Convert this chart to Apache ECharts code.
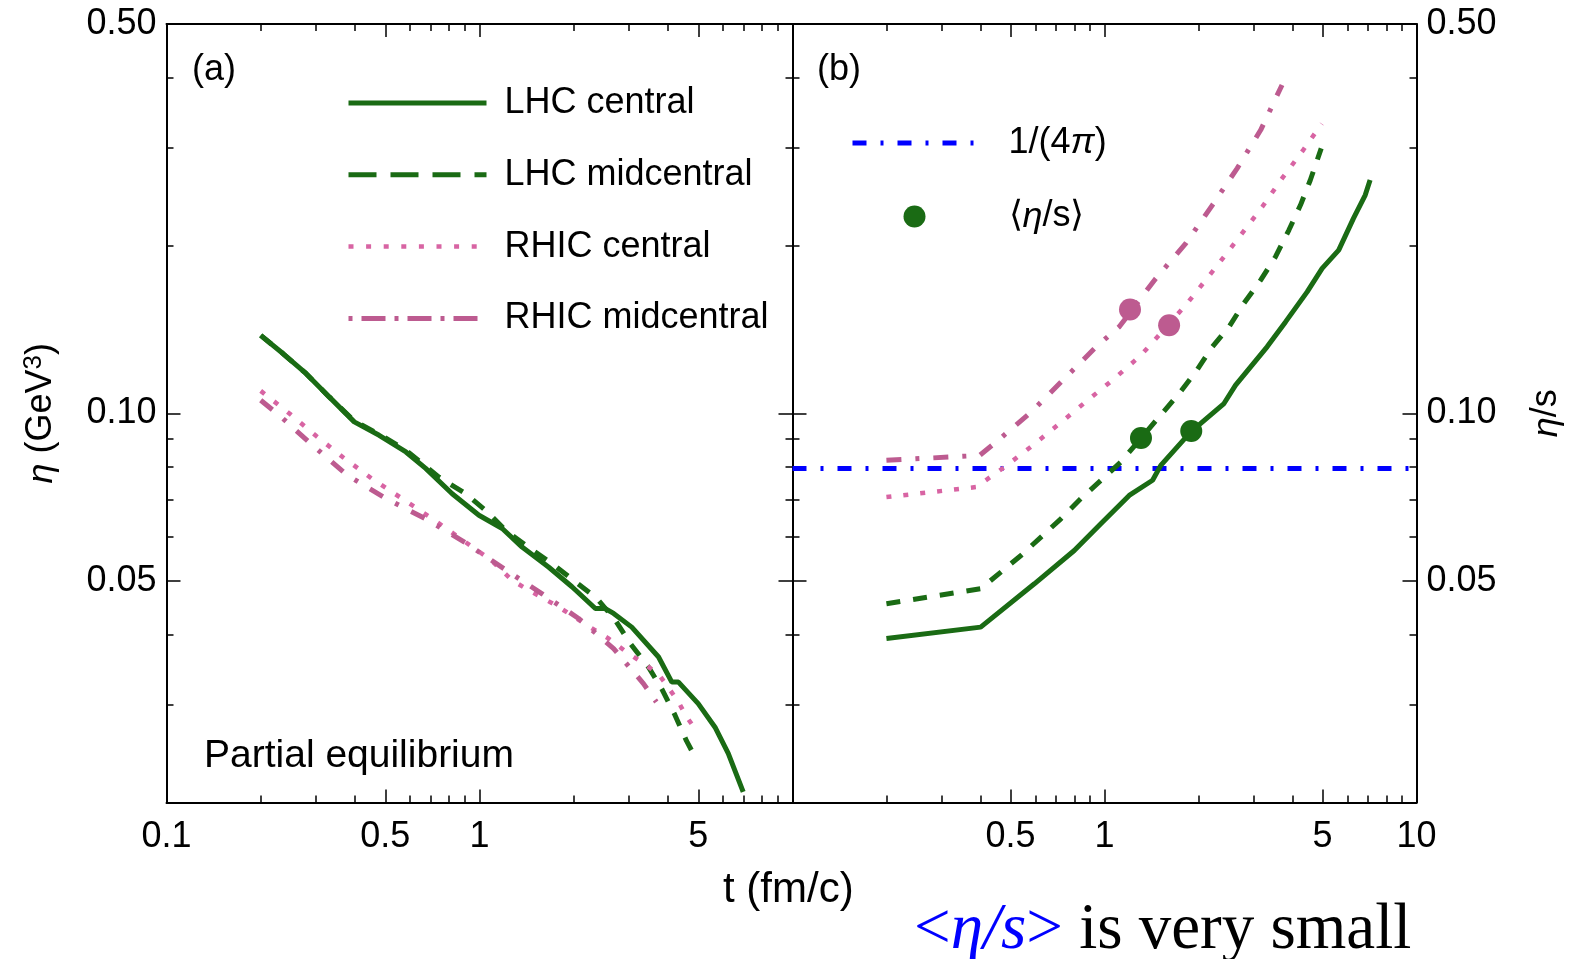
<!DOCTYPE html>
<html>
<head>
<meta charset="utf-8">
<title>eta and eta/s vs t</title>
<script src="https://cdn.jsdelivr.net/npm/echarts@6/dist/echarts.min.js"></script>
<style>
  html, body { margin: 0; padding: 0; background: #fff; }
  #chart { width: 1573px; height: 959px; }
</style>
</head>
<body>
<div id="chart"></div>
<script>
// ---- panel (a): eta (GeV^3) vs t (fm/c) ----
var tA_lhcCentral = [0.2, 0.2355, 0.279, 0.331, 0.398, 0.478, 0.582, 0.673, 0.818, 0.996, 1.182, 1.368, 1.665, 1.974, 2.345, 2.523, 2.682, 3.065, 3.733, 4.116, 4.322, 4.998, 5.655, 6.233, 6.957];
var etaA_lhcCentral = [0.138, 0.128, 0.1179, 0.107, 0.0965, 0.0913, 0.0852, 0.0796, 0.0717, 0.0656, 0.0621, 0.0575, 0.0529, 0.0488, 0.0446, 0.0446, 0.0437, 0.0413, 0.0365, 0.0329, 0.0329, 0.0301, 0.0273, 0.0245, 0.0209];

var tA_lhcMid = [0.2, 0.2355, 0.279, 0.331, 0.398, 0.478, 0.582, 0.742, 0.903, 1.059, 1.212, 1.456, 1.706, 2.024, 2.373, 2.716, 3.031, 3.468, 3.822, 4.214, 4.586, 4.95];
var etaA_lhcMid = [0.138, 0.128, 0.1179, 0.107, 0.0968, 0.0917, 0.0858, 0.0768, 0.0717, 0.0665, 0.0616, 0.0571, 0.0537, 0.0498, 0.0465, 0.0425, 0.0386, 0.035, 0.032, 0.0287, 0.0258, 0.0238];

var tA_rhicCentral = [0.2, 0.247, 0.301, 0.367, 0.453, 0.563, 0.692, 0.89, 1.088, 1.272, 1.438, 1.778, 2.207, 2.565, 2.958, 3.351, 3.733, 4.008, 4.322, 4.586, 4.96];
var etaA_rhicCentral = [0.1097, 0.0999, 0.091, 0.0833, 0.0763, 0.0704, 0.0652, 0.059, 0.0545, 0.0501, 0.0481, 0.045, 0.0416, 0.0395, 0.0372, 0.0355, 0.034, 0.0322, 0.0303, 0.0285, 0.0268];

var tA_rhicMid = [0.2, 0.229, 0.293, 0.378, 0.502, 0.681, 0.903, 1.196, 1.585, 2.073, 2.682, 3.34, 3.673];
var etaA_rhicMid = [0.1055, 0.0992, 0.0876, 0.0774, 0.0703, 0.0644, 0.0585, 0.0526, 0.0474, 0.0428, 0.0378, 0.0327, 0.0303];

// ---- panel (b): eta/s vs t (fm/c) ----
var tB_lhcCentral = [0.2, 0.401, 0.596, 0.8, 0.975, 1.2, 1.426, 1.515, 1.89, 2.415, 2.631, 3.32, 3.804, 4.462, 4.984, 5.632, 6.28, 6.85, 7.1];
var etasB_lhcCentral = [0.0394, 0.0413, 0.0494, 0.0567, 0.0634, 0.0712, 0.0758, 0.0806, 0.0926, 0.1041, 0.1123, 0.1316, 0.1459, 0.1652, 0.182, 0.1963, 0.2238, 0.2465, 0.2623];

var tB_lhcMid = [0.2, 0.401, 0.541, 0.627, 0.726, 0.841, 0.975, 1.129, 1.497, 1.734, 1.96, 2.217, 2.507, 2.797, 3.166, 3.533, 3.9, 4.248, 4.568, 4.95];
var etasB_lhcMid = [0.0455, 0.0484, 0.0556, 0.06, 0.0647, 0.0703, 0.0758, 0.0818, 0.0985, 0.1085, 0.1186, 0.1316, 0.143, 0.1575, 0.1734, 0.191, 0.2133, 0.2365, 0.2623, 0.299];

var tB_rhicCentral = [0.2, 0.388, 0.4786, 0.5895, 0.717, 0.883, 1.075, 1.309, 1.822, 2.326, 2.73, 3.204, 3.707, 4.345, 4.97];
var etasB_rhicCentral = [0.0707, 0.0737, 0.0801, 0.0876, 0.0958, 0.1055, 0.1154, 0.1271, 0.1564, 0.1858, 0.2088, 0.2348, 0.264, 0.2975, 0.331];

var tB_rhicMid = [0.2, 0.398, 0.456, 0.583, 0.744, 0.94, 1.115, 1.46, 1.822, 2.217, 2.662, 3.166, 3.707];
var etasB_rhicMid = [0.0823, 0.084, 0.0894, 0.1006, 0.1154, 0.1316, 0.143, 0.1746, 0.2018, 0.2365, 0.2753, 0.3225, 0.3886];

// KSS bound 1/(4 pi)
var tBound = [0.1, 10];
var etasBound = [1 / (4 * Math.PI), 1 / (4 * Math.PI)];

// time-averaged <eta/s>
var tAvgLhc = [1.309, 1.897];
var etasAvgLhc = [0.0903, 0.0929];
var tAvgRhic = [1.207, 1.611];
var etasAvgRhic = [0.1536, 0.1439];

// ticks
var xMajorTicks = [0.1, 0.5, 1, 5, 10];
var xMinorTicks = [0.2, 0.3, 0.4, 0.6, 0.7, 0.8, 0.9, 2, 3, 4, 6, 7, 8, 9];
var xLabelsA = [0.1, 0.5, 1, 5];
var xLabelsB = [0.5, 1, 5, 10];
var yMajorTicks = [0.05, 0.1, 0.5];
var yMinorTicks = [0.02, 0.03, 0.04, 0.06, 0.07, 0.08, 0.09, 0.2, 0.3, 0.4];
var yLabels = [0.05, 0.1, 0.5];

var FONT = '"Liberation Sans", Arial, sans-serif';
var SERIF = '"Liberation Serif", "Times New Roman", serif';
var GREEN = '#1a6b14';
var PINK_DOT = '#d864a3';
var PINK_DASHDOT = '#bd5b90';
var BLUE = '#0000ff';

var chartDom = document.getElementById('chart');
var myChart = echarts.init(chartDom, null, { renderer: 'canvas' });

function pairs(t, v) {
  return t.map(function (x, i) { return [x, v[i]]; });
}

function fmtX(v) { return String(+(+v).toPrecision(3)); }
function fmtY(v) { return (+v).toFixed(2); }

function xAxisDef(grid, pos, ticks, len, labels, showLine) {
  return {
    type: 'log', logBase: 10, gridIndex: grid, position: pos, min: 0.1, max: 10,
    axisLine: { show: showLine, onZero: false, lineStyle: { color: '#000', width: 2 } },
    axisTick: { show: true, inside: true, length: len, customValues: ticks, lineStyle: { color: '#000', width: 1.5 } },
    axisLabel: labels
      ? { show: true, customValues: labels, formatter: fmtX, fontSize: 36, color: '#000', fontFamily: FONT, margin: 17 }
      : { show: false },
    splitLine: { show: false },
    minorTick: { show: false },
    minorSplitLine: { show: false }
  };
}

function yAxisDef(grid, pos, ticks, len, labels, showLine) {
  return {
    type: 'log', logBase: 10, gridIndex: grid, position: pos, min: 0.02, max: 0.5,
    axisLine: { show: showLine, onZero: false, lineStyle: { color: '#000', width: 2 } },
    axisTick: { show: true, inside: true, length: len, customValues: ticks, lineStyle: { color: '#000', width: 1.5 } },
    axisLabel: labels
      ? { show: true, customValues: labels, formatter: fmtY, fontSize: 36, color: '#000', fontFamily: FONT, margin: 10 }
      : { show: false },
    splitLine: { show: false },
    minorTick: { show: false },
    minorSplitLine: { show: false }
  };
}

var xAxes = [
  xAxisDef(0, 'bottom', xMajorTicks, 13, xLabelsA, true),
  xAxisDef(0, 'bottom', xMinorTicks, 7, null, false),
  xAxisDef(0, 'top', xMajorTicks, 13, null, true),
  xAxisDef(0, 'top', xMinorTicks, 7, null, false),
  xAxisDef(1, 'bottom', xMajorTicks, 13, xLabelsB, true),
  xAxisDef(1, 'bottom', xMinorTicks, 7, null, false),
  xAxisDef(1, 'top', xMajorTicks, 13, null, true),
  xAxisDef(1, 'top', xMinorTicks, 7, null, false)
];

var yAxes = [
  yAxisDef(0, 'left', yMajorTicks, 14, yLabels, true),
  yAxisDef(0, 'left', yMinorTicks, 7, null, false),
  yAxisDef(0, 'right', yMajorTicks, 14, null, true),
  yAxisDef(0, 'right', yMinorTicks, 7, null, false),
  yAxisDef(1, 'left', yMajorTicks, 14, null, true),
  yAxisDef(1, 'left', yMinorTicks, 7, null, false),
  yAxisDef(1, 'right', yMajorTicks, 14, yLabels, true),
  yAxisDef(1, 'right', yMinorTicks, 7, null, false)
];

// axis titles
yAxes[0].name = '{i|η} (GeV{s|3})';
yAxes[0].nameLocation = 'middle';
yAxes[0].nameRotate = 90;
yAxes[0].nameGap = 104;
yAxes[0].nameTextStyle = {
  fontSize: 36, fontFamily: FONT, color: '#000', lineHeight: 42,
  rich: {
    i: { fontSize: 36, fontFamily: FONT, fontStyle: 'italic', color: '#000' },
    s: { fontSize: 26, fontFamily: FONT, color: '#000', verticalAlign: 'top', lineHeight: 26 }
  }
};
yAxes[6].name = '{i|η}/s';
yAxes[6].nameLocation = 'middle';
yAxes[6].nameRotate = 90;
yAxes[6].nameGap = 112;
yAxes[6].nameTextStyle = {
  fontSize: 36, fontFamily: FONT, color: '#000',
  rich: { i: { fontSize: 36, fontFamily: FONT, fontStyle: 'italic', color: '#000' } }
};

function lineSeries(name, xi, yi, t, v, color, width, dash) {
  return {
    name: name, type: 'line', xAxisIndex: xi, yAxisIndex: yi,
    data: pairs(t, v), symbol: 'none', showSymbol: false, silent: true,
    lineStyle: { color: color, width: width, type: dash },
    itemStyle: { color: color }, z: 3
  };
}

var DASH = [14, 13];
var DOT = [5, 12];
var DASHDOT = [15, 14, 4, 14];
var BOUND = [14, 14, 3, 14];

var series = [
  lineSeries('LHC central', 0, 0, tA_lhcCentral, etaA_lhcCentral, GREEN, 5, 'solid'),
  lineSeries('LHC midcentral', 0, 0, tA_lhcMid, etaA_lhcMid, GREEN, 5, DASH),
  lineSeries('RHIC central', 0, 0, tA_rhicCentral, etaA_rhicCentral, PINK_DOT, 4.5, DOT),
  lineSeries('RHIC midcentral', 0, 0, tA_rhicMid, etaA_rhicMid, PINK_DASHDOT, 5, DASHDOT),

  lineSeries('1/(4π)', 4, 4, tBound, etasBound, BLUE, 5, BOUND),
  lineSeries('LHC central', 4, 4, tB_lhcCentral, etasB_lhcCentral, GREEN, 5, 'solid'),
  lineSeries('LHC midcentral', 4, 4, tB_lhcMid, etasB_lhcMid, GREEN, 5, DASH),
  lineSeries('RHIC central', 4, 4, tB_rhicCentral, etasB_rhicCentral, PINK_DOT, 4.5, DOT),
  lineSeries('RHIC midcentral', 4, 4, tB_rhicMid, etasB_rhicMid, PINK_DASHDOT, 5, DASHDOT),
  {
    name: '⟨η/s⟩', type: 'scatter', xAxisIndex: 4, yAxisIndex: 4,
    data: pairs(tAvgLhc, etasAvgLhc), symbol: 'circle', symbolSize: 22,
    itemStyle: { color: GREEN, opacity: 1 }, z: 5, silent: true
  },
  {
    name: '⟨η/s⟩ RHIC', type: 'scatter', xAxisIndex: 4, yAxisIndex: 4,
    data: pairs(tAvgRhic, etasAvgRhic), symbol: 'circle', symbolSize: 22,
    itemStyle: { color: PINK_DASHDOT, opacity: 1 }, z: 5, silent: true
  }
];

function titleText(text, left, top, size) {
  return {
    text: text, left: left, top: top, padding: 0,
    textStyle: { fontSize: size, fontWeight: 'normal', fontFamily: FONT, color: '#000' }
  };
}

var option = {
  animation: false,
  backgroundColor: '#fff',
  grid: [
    { left: 166.5, top: 24, width: 626, height: 778.5, outerBoundsMode: 'none', containLabel: false },
    { left: 792.5, top: 24, width: 624, height: 778.5, outerBoundsMode: 'none', containLabel: false }
  ],
  xAxis: xAxes,
  yAxis: yAxes,
  title: [
    titleText('(a)', 192, 52, 36),
    titleText('(b)', 817, 52, 36),
    titleText('Partial equilibrium', 204, 737, 39),
    titleText('t (fm/c)', 723, 869, 42),
    {
      text: '{b|<}{bi|η/s}{b|>}{k| is very small}', left: 914, top: 898, padding: 0,
      textStyle: {
        fontSize: 65, fontWeight: 'normal', fontFamily: SERIF,
        rich: {
          b: { fontSize: 65, fontFamily: SERIF, color: BLUE },
          bi: { fontSize: 65, fontFamily: SERIF, color: BLUE, fontStyle: 'italic' },
          k: { fontSize: 65, fontFamily: SERIF, color: '#000' }
        }
      }
    }
  ],
  legend: [
    {
      orient: 'vertical', left: 346, top: 85, padding: 0,
      itemWidth: 138, itemHeight: 22, itemGap: 35.8, selectedMode: false,
      itemStyle: { opacity: 0 },
      lineStyle: { width: 5 },
      textStyle: { fontSize: 36, fontFamily: FONT, color: '#000', lineHeight: 36, padding: [0, 0, 0, 13] },
      data: [
        { name: 'LHC central' },
        { name: 'LHC midcentral', lineStyle: { type: [28, 14] } },
        { name: 'RHIC central', lineStyle: { type: [5, 12.6], width: 4.5 } },
        { name: 'RHIC midcentral', lineStyle: { type: [4, 9, 24, 9] } }
      ]
    },
    {
      orient: 'vertical', left: 850, top: 125, padding: 0,
      itemWidth: 124, itemHeight: 22, itemGap: 37.5, selectedMode: false,
      itemStyle: { opacity: 0 },
      lineStyle: { width: 5 },
      formatter: function (name) {
        return name === '1/(4π)' ? '1/(4{i|π})' : '⟨{i|η}/s⟩';
      },
      textStyle: {
        fontSize: 36, fontFamily: FONT, color: '#000', lineHeight: 36, padding: [0, 0, 0, 27],
        rich: { i: { fontSize: 36, fontFamily: FONT, fontStyle: 'italic', color: '#000' } }
      },
      data: [
        { name: '1/(4π)' },
        { name: '⟨η/s⟩', itemStyle: { opacity: 1 } }
      ]
    }
  ],
  series: series
};

myChart.setOption(option);
</script>
</body>
</html>
